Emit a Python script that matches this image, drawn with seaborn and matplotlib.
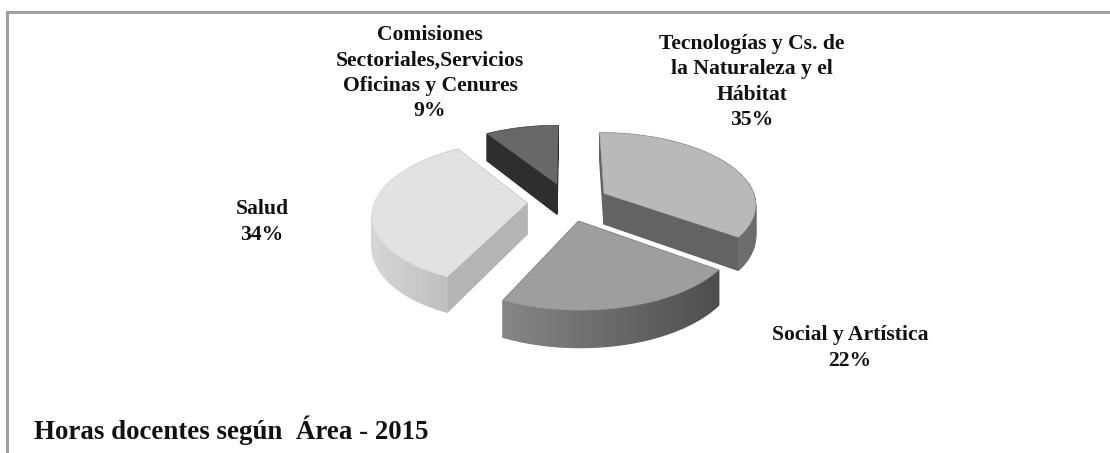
import numpy as np
import seaborn as sns
import matplotlib
matplotlib.use('Agg')
from matplotlib import pyplot as plt
from matplotlib.colors import to_rgb

# data
areas = ['Tecnologías y Cs. de\nla Naturaleza y el\nHábitat', 'Social y Artística',
         'Salud', 'Comisiones\nSectoriales,Servicios\nOficinas y Cenures']
shares = [35, 22, 34, 9]
title = 'Horas docentes según  Área - 2015'

# top face, flat wall, curved wall (left end, right end)
top_colors = ['#b9b9b9', '#9e9e9e', '#e2e2e2', '#686868']
flat_colors = ['#636363', '#6e6e6e', '#b4b4b4', '#2e2e2e']
arc_colors = [('#7c7c7c', '#6c6c6c'), ('#868686', '#4e4e4e'),
              ('#d6d6d6', '#bcbcbc'), ('#444444', '#444444')]
label_pos = [(752, 82), (850, 348), (262, 222), (430, 73)]

sns.set_theme(style='white')
plt.rcParams['font.family'] = ['Liberation Serif', 'DejaVu Serif']

CX, CY, RX, RY, K, DEPTH = 568, 202, 152, 71, 0.136, 31


def project(x, y, drop=0):
    s = 1 / (1 + K * y)
    return CX + RX * x * s, CY - RY * y * s + DEPTH * drop * s


fig = plt.figure(figsize=(11.1, 4.53), dpi=100, facecolor='white')
ax = fig.add_axes([0, 0, 1, 1])

# the pie gives each slice its angles and its exploded centre
wedges, _ = ax.pie(shares, explode=[0.27] * 4, startangle=90, counterclock=False, colors=top_colors)
ax.set_aspect('auto')
ax.set_xlim(0, 1110)
ax.set_ylim(453, 0)
ax.axis('off')

faces = []
tops = []
for i, w in enumerate(wedges):
    x0, y0 = w.center
    th = np.radians(np.linspace(w.theta1, w.theta2, 60))
    ox = x0 + w.r * np.cos(th)
    oy = y0 + w.r * np.sin(th)
    w.remove()

    # outer wall, in strips so the shade can change along it
    sx, sy = project(ox, oy)
    bx, by = project(ox, oy, 1)
    c0, c1 = np.array(to_rgb(arc_colors[i][0])), np.array(to_rgb(arc_colors[i][1]))
    span = sx.max() - sx.min()
    for j in range(len(th) - 1):
        t = (0.5 * (sx[j] + sx[j + 1]) - sx.min()) / span
        faces.append((oy[j], [sx[j], sx[j + 1], bx[j + 1], bx[j]], [sy[j], sy[j + 1], by[j + 1], by[j]],
                      c0 + (c1 - c0) * t))

    # the two straight walls from the apex
    ax_top = project(x0, y0)
    ax_bot = project(x0, y0, 1)
    for k in (0, -1):
        faces.append((0.5 * (oy[k] + y0), [ax_top[0], sx[k], bx[k], ax_bot[0]],
                      [ax_top[1], sy[k], by[k], ax_bot[1]], flat_colors[i]))
    tops.append((np.r_[ax_top[0], sx], np.r_[ax_top[1], sy], top_colors[i]))

# far faces first
for _, xs, ys, col in sorted(faces, key=lambda f: -f[0]):
    ax.fill(xs, ys, color=col, lw=1.0, zorder=2)
for xs, ys, col in tops:
    ax.fill(xs, ys, color=col, lw=0.3, zorder=3)

for name, share, (lx, ly) in zip(areas, shares, label_pos):
    ax.text(lx, ly, '{}\n{}%'.format(name, share), ha='center', va='center', fontsize=15.6,
            fontweight='bold', color='#111111', linespacing=1.34, zorder=4)

ax.text(34, 430, title, ha='left', va='center', fontsize=19.4, fontweight='bold', color='#111111')

# frame, only on the left and along the top
ax.plot([7, 7, 1110], [453, 12, 12], color='#a0a0a0', lw=2.2, solid_joinstyle='miter', zorder=5)

fig.savefig('out.png', dpi=100)
